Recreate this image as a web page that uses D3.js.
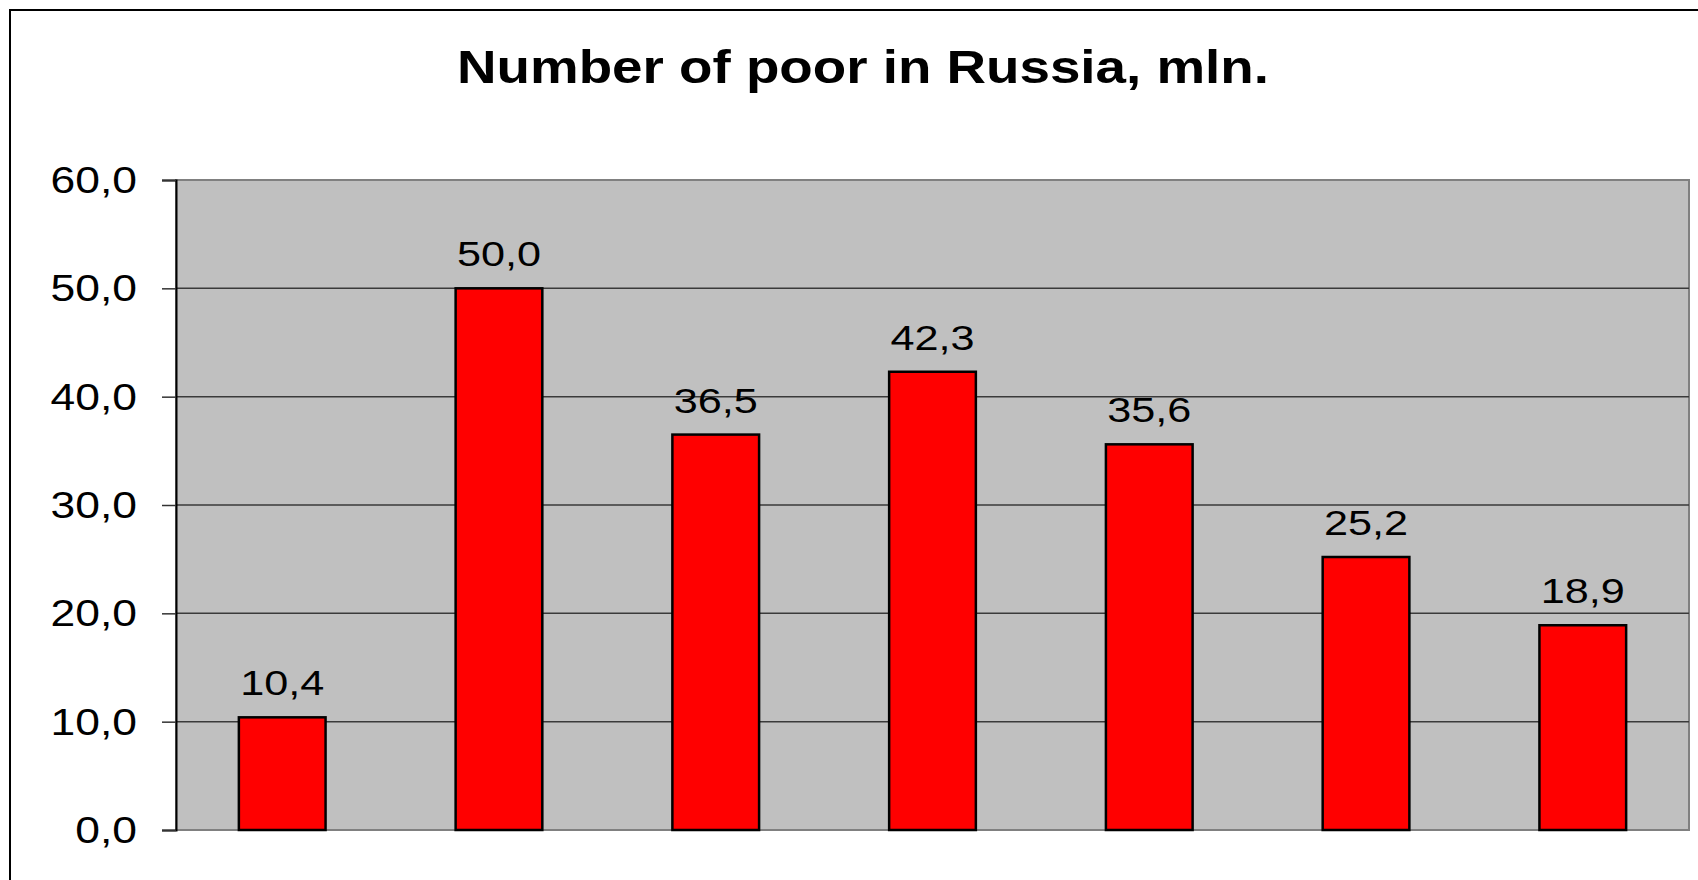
<!DOCTYPE html>
<html lang="en">
<head>
    <meta charset="UTF-8">
    <title>Number of poor in Russia, mln.</title>
    <style>
        html, body {
            margin: 0;
            padding: 0;
            background-color: #FFFFFF;
            overflow: hidden;
        }
        svg text {
            font-family: 'Liberation Sans', Arial, sans-serif;
            fill: #000000;
        }
    </style>
</head>
<body>
    <div id="chart"></div>
    <script src="https://d3js.org/d3.v7.min.js"></script>
    <script>
        // DATA
        const categories = ["1", "2", "3", "4", "5", "6", "7"];
        const values = [10.4, 50.0, 36.5, 42.3, 35.6, 25.2, 18.9];
        const yTicks = [0, 10, 20, 30, 40, 50, 60];
        const title = "Number of poor in Russia, mln.";

        const W = 1698, H = 880;
        const plot = {left: 176, top: 180, right: 1689, bottom: 830};
        const stretch = 1.2; // text in the picture is a bit wide
        const fmt = (d) => d.toFixed(1).replace(".", ",");

        const svg = d3.select("#chart")
            .append("svg")
            .attr("width", W)
            .attr("height", H);

        // OUTER FRAME (only top and left visible)
        svg.append("path")
            .attr("d", `M10,${H + 5} V10 H${W + 5}`)
            .attr("fill", "none")
            .attr("stroke", "#000")
            .attr("stroke-width", 2);

        // TITLE
        svg.append("text")
            .attr("transform", `translate(863, 83) scale(1.19, 1)`)
            .attr("text-anchor", "middle")
            .style("font-size", "46px")
            .style("font-weight", "bold")
            .text(title);

        // SCALES
        const x = d3.scaleBand()
            .domain(categories)
            .range([plot.left, plot.right])
            .paddingInner(0.6)
            .paddingOuter(0.29);

        const y = d3.scaleLinear()
            .domain([0, 60])
            .range([plot.bottom, plot.top]);

        // PLOT BACKGROUND
        svg.append("rect")
            .attr("x", plot.left)
            .attr("y", plot.top)
            .attr("width", plot.right - plot.left)
            .attr("height", plot.bottom - plot.top)
            .attr("fill", "#C0C0C0")
            .attr("stroke", "#808080")
            .attr("stroke-width", 2);

        // GRIDLINES
        svg.append("g")
            .selectAll("line")
            .data(yTicks.filter((d) => d > 0 && d < 60))
            .enter()
            .append("line")
            .attr("x1", plot.left)
            .attr("x2", plot.right)
            .attr("y1", (d) => y(d))
            .attr("y2", (d) => y(d))
            .attr("stroke", "#3a3a3a")
            .attr("stroke-width", 1.5);

        // Y AXIS
        const yAxis = d3.axisLeft(y)
            .tickValues(yTicks)
            .tickSize(14)
            .tickFormat("");
        const yg = svg.append("g")
            .attr("transform", `translate(${plot.left}, 0)`)
            .call(yAxis);
        yg.select(".domain").attr("stroke", "#000").attr("stroke-width", 2);
        yg.selectAll(".tick line").attr("stroke", "#333").attr("stroke-width", 1.5);

        svg.append("g")
            .selectAll("text")
            .data(yTicks)
            .enter()
            .append("text")
            .attr("transform", (d) => `translate(137, ${y(d) + 13}) scale(${stretch}, 1)`)
            .attr("text-anchor", "end")
            .style("font-size", "37px")
            .text(fmt);

        // BARS
        svg.append("g")
            .selectAll("rect")
            .data(values)
            .enter()
            .append("rect")
            .attr("x", (d, i) => x(categories[i]))
            .attr("y", (d) => y(d))
            .attr("width", x.bandwidth())
            .attr("height", (d) => y(0) - y(d))
            .attr("fill", "#FF0000")
            .attr("stroke", "#000")
            .attr("stroke-width", 2.5);

        // VALUE LABELS
        svg.append("g")
            .selectAll("text")
            .data(values)
            .enter()
            .append("text")
            .attr("transform", (d, i) => `translate(${x(categories[i]) + x.bandwidth() / 2}, ${y(d) - 22}) scale(${stretch}, 1)`)
            .attr("text-anchor", "middle")
            .style("font-size", "36px")
            .text(fmt);
    </script>
</body>
</html>
